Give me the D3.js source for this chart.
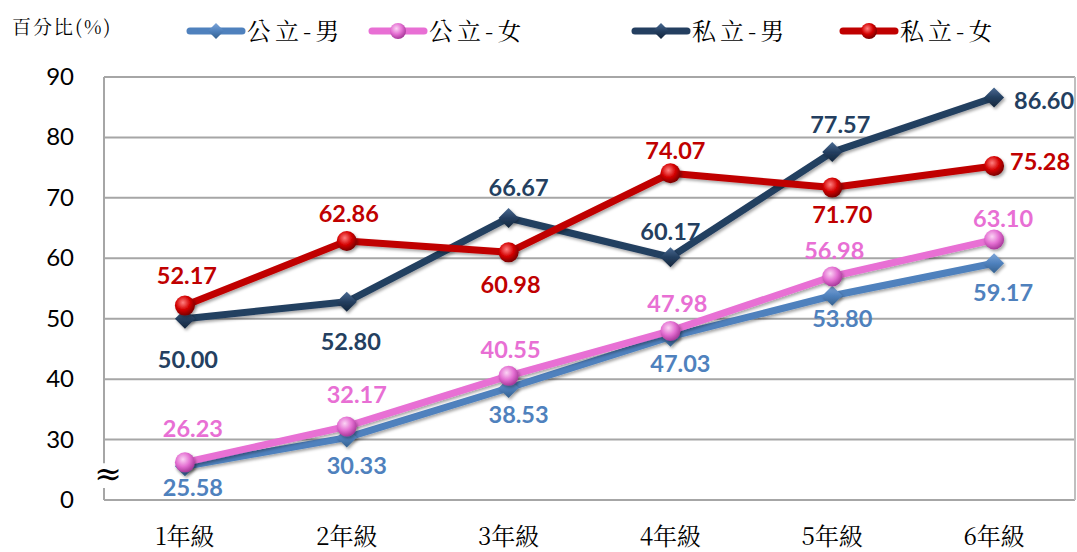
<!DOCTYPE html>
<html>
<head>
<meta charset="utf-8">
<script src="https://cdn.jsdelivr.net/npm/d3@7"></script>
<style>
  body { margin: 0; background: #fff; }
  svg { display: block; }
</style>
</head>
<body>
<svg id="chart" width="1077" height="552"></svg>
<script>
  // grades along the x axis
  const grades = ["1年級", "2年級", "3年級", "4年級", "5年級", "6年級"];

  // percentages per series
  const publicBoys = [25.58, 30.33, 38.53, 47.03, 53.80, 59.17];
  const publicGirls = [26.23, 32.17, 40.55, 47.98, 56.98, 63.10];
  const privateBoys = [50.00, 52.80, 66.67, 60.17, 77.57, 86.60];
  const privateGirls = [52.17, 62.86, 60.98, 74.07, 71.70, 75.28];

  // y ticks: the bottom tick stands for 0 (axis is broken below 30)
  const yTickValues = [20, 30, 40, 50, 60, 70, 80, 90];
  const yTickLabels = ["0", "30", "40", "50", "60", "70", "80", "90"];

  const svg = d3.select("#chart");
  const plot = { left: 104, right: 1075, top: 77, bottom: 500 };

  const x = d3.scaleBand().domain(grades).range([plot.left, plot.right]);
  const y = d3.scaleLinear().domain([20, 90]).range([plot.bottom, plot.top]);
  const cx = g => x(g) + x.bandwidth() / 2;

  const numFont = "Lato, 'Liberation Sans', sans-serif";
  const cjkFont = "'Noto Serif CJK TC', 'Noto Sans CJK TC', serif";

  // gridlines
  svg.append("g")
    .selectAll("line")
    .data(yTickValues)
    .join("line")
    .attr("x1", plot.left).attr("x2", plot.right)
    .attr("y1", d => y(d)).attr("y2", d => y(d))
    .attr("stroke", "#a6a6a6")
    .attr("stroke-width", 2);

  // right border
  svg.append("line")
    .attr("x1", plot.right).attr("x2", plot.right)
    .attr("y1", plot.top).attr("y2", plot.bottom)
    .attr("stroke", "#bfbfbf").attr("stroke-width", 2);

  // left axis line with a break gap
  svg.append("line")
    .attr("x1", plot.left).attr("x2", plot.left)
    .attr("y1", plot.top).attr("y2", y(26.1))
    .attr("stroke", "#a6a6a6").attr("stroke-width", 2);
  svg.append("line")
    .attr("x1", plot.left).attr("x2", plot.left)
    .attr("y1", y(22)).attr("y2", plot.bottom)
    .attr("stroke", "#a6a6a6").attr("stroke-width", 2);
  svg.append("text")
    .attr("x", plot.left + 4).attr("y", 485)
    .attr("text-anchor", "middle")
    .attr("font-family", "'DejaVu Serif', serif")
    .attr("font-size", 33)
    .text("≈");

  // y tick labels
  svg.append("g")
    .selectAll("text")
    .data(yTickValues)
    .join("text")
    .attr("x", 74)
    .attr("y", d => y(d) + 8)
    .attr("text-anchor", "end")
    .attr("font-family", numFont)
    .attr("font-size", 24)
    .attr("fill", "#000")
    .text((d, i) => yTickLabels[i]);

  // x labels
  svg.append("g")
    .selectAll("text")
    .data(grades)
    .join("text")
    .attr("x", d => cx(d))
    .attr("y", 545)
    .attr("text-anchor", "middle")
    .attr("font-family", cjkFont)
    .attr("font-size", 24)
    .attr("fill", "#000")
    .text(d => d);

  // y axis title
  svg.append("text")
    .attr("x", 12).attr("y", 34)
    .attr("font-family", cjkFont)
    .attr("font-size", 19)
    .attr("letter-spacing", 2)
    .text("百分比(%)");

  // defs for marker gradients
  const defs = svg.append("defs");
  function sphereGrad(id, light, base, dark) {
    const g = defs.append("radialGradient").attr("id", id)
      .attr("cx", "40%").attr("cy", "35%").attr("r", "65%");
    g.append("stop").attr("offset", "0%").attr("stop-color", light);
    g.append("stop").attr("offset", "55%").attr("stop-color", base);
    g.append("stop").attr("offset", "100%").attr("stop-color", dark);
  }
  function diamondGrad(id, light, base, dark) {
    const g = defs.append("linearGradient").attr("id", id)
      .attr("x1", "0%").attr("y1", "0%").attr("x2", "0%").attr("y2", "100%");
    g.append("stop").attr("offset", "0%").attr("stop-color", light);
    g.append("stop").attr("offset", "50%").attr("stop-color", base);
    g.append("stop").attr("offset", "100%").attr("stop-color", dark);
  }
  diamondGrad("gPubB", "#7ea6d8", "#4f81bd", "#35618f");
  sphereGrad("gPubG", "#fbd4f4", "#e46fd2", "#a8399a");
  diamondGrad("gPriB", "#4a6a92", "#243f60", "#14263c");
  sphereGrad("gPriG", "#ff8080", "#d40000", "#7a0000");

  // label offsets: [dx, dy] of label centre relative to the point
  const series = [
    { name: "公立-男", values: publicBoys, color: "#4f81bd", grad: "gPubB", marker: "diamond",
      offsets: [[8, 21], [10, 28], [10, 26], [10, 27], [10, 23], [9, 29]] },
    { name: "公立-女", values: publicGirls, color: "#e86fd4", grad: "gPubG", marker: "sphere",
      offsets: [[8, -34], [10, -32], [2, -26], [7, -27], [2, -26], [9, -21]] },
    { name: "私立-男", values: privateBoys, color: "#243f60", grad: "gPriB", marker: "diamond",
      offsets: [[3, 41], [4, 40], [10, -30], [0, -26], [8, -28], [50, 3]] },
    { name: "私立-女", values: privateGirls, color: "#c00000", grad: "gPriG", marker: "sphere",
      offsets: [[2, -30], [2, -28], [2, 32], [5, -23], [10, 27], [46, -4]] }
  ];

  const line = d3.line()
    .x((d, i) => cx(grades[i]))
    .y(d => y(d));

  const shadow = defs.append("filter").attr("id", "shadow")
    .attr("x", "-50%").attr("y", "-50%").attr("width", "200%").attr("height", "200%");
  shadow.append("feDropShadow").attr("dx", 1.5).attr("dy", 2).attr("stdDeviation", 1.5)
    .attr("flood-color", "#000").attr("flood-opacity", 0.35);

  series.forEach(s => {
    const g = svg.append("g");
    g.append("path")
      .datum(s.values)
      .attr("fill", "none")
      .attr("stroke", s.color)
      .attr("stroke-width", 7)
      .attr("stroke-linejoin", "round")
      .attr("filter", "url(#shadow)")
      .attr("d", line);

    const pts = g.selectAll(".pt")
      .data(s.values)
      .join("g")
      .attr("transform", (d, i) => `translate(${cx(grades[i])},${y(d)})`)
      .attr("filter", "url(#shadow)");
    if (s.marker === "diamond") {
      pts.append("path")
        .attr("d", "M0,-10L10,0L0,10L-10,0Z")
        .attr("fill", `url(#${s.grad})`);
    } else {
      pts.append("circle")
        .attr("r", 10)
        .attr("fill", `url(#${s.grad})`);
    }
  });

  // data labels on top
  series.forEach(s => {
    svg.append("g")
      .selectAll("text")
      .data(s.values)
      .join("text")
      .attr("x", (d, i) => cx(grades[i]) + s.offsets[i][0])
      .attr("y", (d, i) => y(d) + s.offsets[i][1] + 8.5)
      .attr("text-anchor", "middle")
      .attr("font-family", numFont)
      .attr("font-weight", "bold")
      .attr("font-size", 23.5)
      .attr("fill", s.color)
      .text(d => d.toFixed(2));
  });

  // legend
  const legendX = [190, 372, 635, 843];
  const legend = svg.append("g");
  series.forEach((s, i) => {
    const lg = legend.append("g").attr("transform", `translate(${legendX[i]},31)`);
    lg.append("line")
      .attr("x1", 0).attr("x2", 52)
      .attr("stroke", s.color).attr("stroke-width", 7)
      .attr("stroke-linecap", "round");
    if (s.marker === "diamond") {
      lg.append("path").attr("d", "M26,-8L34,0L26,8L18,0Z").attr("fill", `url(#${s.grad})`);
    } else {
      lg.append("circle").attr("cx", 26).attr("r", 8).attr("fill", `url(#${s.grad})`);
    }
    lg.append("text")
      .attr("x", 57).attr("y", 9)
      .attr("font-family", cjkFont)
      .attr("font-size", 24)
      .attr("letter-spacing", 4)
      .text(s.name);
  });
</script>
</body>
</html>
